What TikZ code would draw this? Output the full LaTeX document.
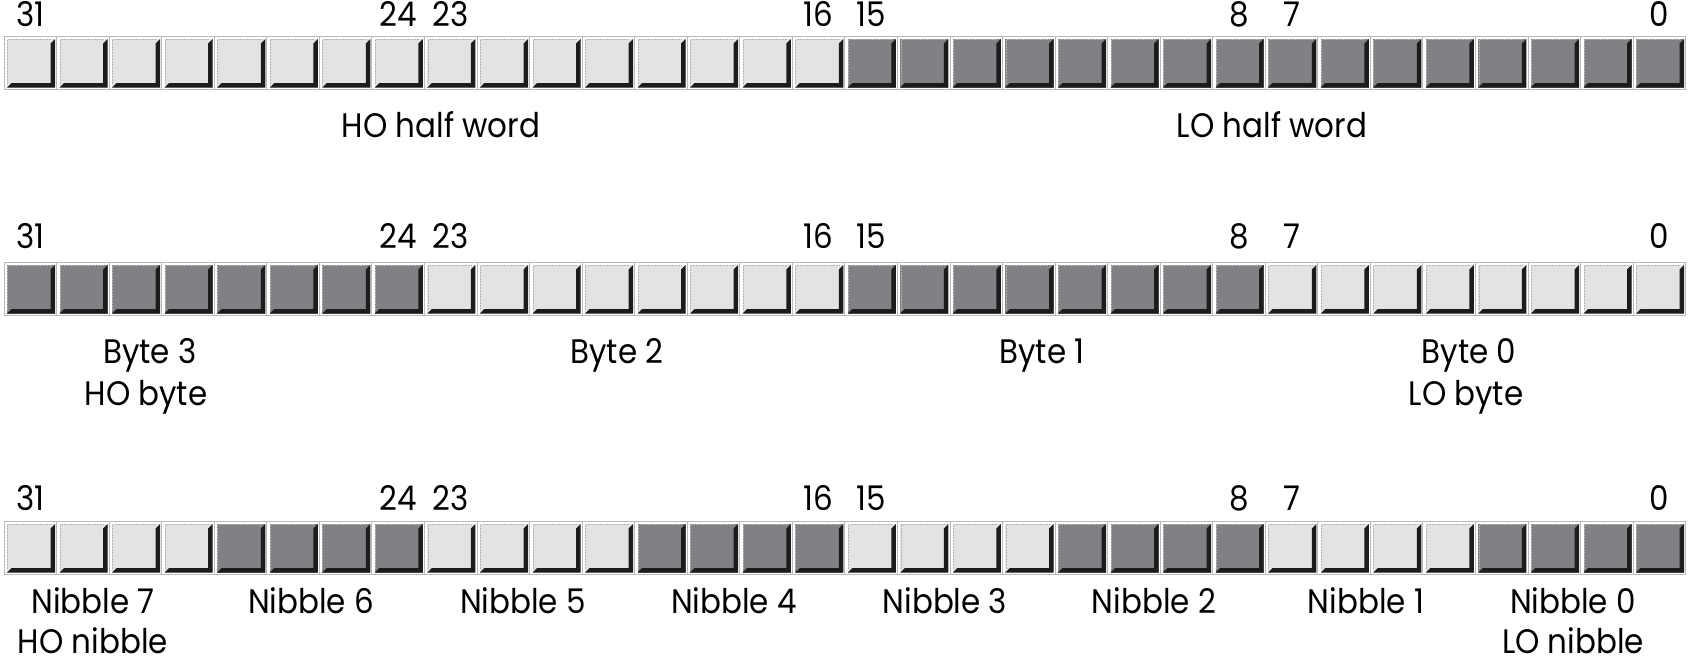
\documentclass[tikz,border=0pt]{standalone}
\usepackage{fontspec}
\setmainfont[FakeStretch=0.91]{Poppins}
\definecolor{lightface}{RGB}{226,227,229}
\definecolor{darkface}{RGB}{128,128,133}
\definecolor{cellrim}{RGB}{185,185,188}
\definecolor{shadowc}{RGB}{28,28,28}
\tikzset{
  lbl/.style={inner sep=0pt, anchor=base, text=black, font=\fontsize{34}{40}\selectfont},
  pics/bitcell/.style={code={
    \filldraw[draw=cellrim, fill=white, line width=0.8pt] (0,0) rectangle (52.55,53);
    \fill[#1] (3,3) rectangle (51.05,51.5);
    \draw[gray!60, densely dotted, line width=0.5pt] (3.4,47.5) -- (3.4,3.4) -- (47,3.4);
    \fill[shadowc] (3,51.5) -- (51.05,51.5) -- (51.05,3) -- (46.55,7.5) -- (46.55,47) -- (7.5,47) -- cycle;
  }}
}
\begin{document}
\begin{tikzpicture}[x=1pt,y=-1pt]
\useasboundingbox (0,0) rectangle (1688,662);
% row 1: half words
\foreach \k in {0,...,31}{
  \pgfmathsetmacro{\xx}{4+52.55*\k}
  \ifnum\k<16 \def\fc{lightface}\else\def\fc{darkface}\fi
  \pic at (\xx,36) {bitcell=\fc};
}
% row 2: bytes
\foreach \k in {0,...,31}{
  \pgfmathsetmacro{\xx}{4+52.55*\k}
  \pgfmathtruncatemacro{\g}{mod(int(\k/8),2)}
  \ifnum\g=0 \def\fc{darkface}\else\def\fc{lightface}\fi
  \pic at (\xx,262) {bitcell=\fc};
}
% row 3: nibbles
\foreach \k in {0,...,31}{
  \pgfmathsetmacro{\xx}{4+52.55*\k}
  \pgfmathtruncatemacro{\g}{mod(int(\k/4),2)}
  \ifnum\g=0 \def\fc{lightface}\else\def\fc{darkface}\fi
  \pic at (\xx,521) {bitcell=\fc};
}
% bit numbers
\foreach \r/\yb in {1/26, 2/248, 3/510}{
  \foreach \b/\k in {31/0, 24/7, 23/8, 16/15, 15/16, 8/23, 7/24, 0/31}{
    \pgfmathsetmacro{\xc}{4+52.55*(\k+0.5)}
    \node[lbl] (n\r-\b) at (\xc,\yb) {\b};
  }
}
% row 1 labels
\node[lbl] (hohw) at (441,137) {HO half word};
\node[lbl] (lohw) at (1272,137) {LO half word};
% row 2 labels
\node[lbl] (byte3) at (150,363) {Byte 3};
\node[lbl] (hobyte) at (146,405) {HO byte};
\node[lbl] (byte2) at (617,363) {Byte 2};
\node[lbl] (byte1) at (1042,363) {Byte 1};
\node[lbl] (byte0) at (1469,363) {Byte 0};
\node[lbl] (lobyte) at (1466,405) {LO byte};
% row 3 labels
\node[lbl] (nib7) at (93,613) {Nibble 7};
\node[lbl] (nib6) at (311,613) {Nibble 6};
\node[lbl] (nib5) at (523,613) {Nibble 5};
\node[lbl] (nib4) at (734,613) {Nibble 4};
\node[lbl] (nib3) at (945,613) {Nibble 3};
\node[lbl] (nib2) at (1154,613) {Nibble 2};
\node[lbl] (nib1) at (1366,613) {Nibble 1};
\node[lbl] (nib0) at (1573,613) {Nibble 0};
\node[lbl] (honib) at (93,653) {HO nibble};
\node[lbl] (lonib) at (1573,653) {LO nibble};
\end{tikzpicture}
\end{document}
